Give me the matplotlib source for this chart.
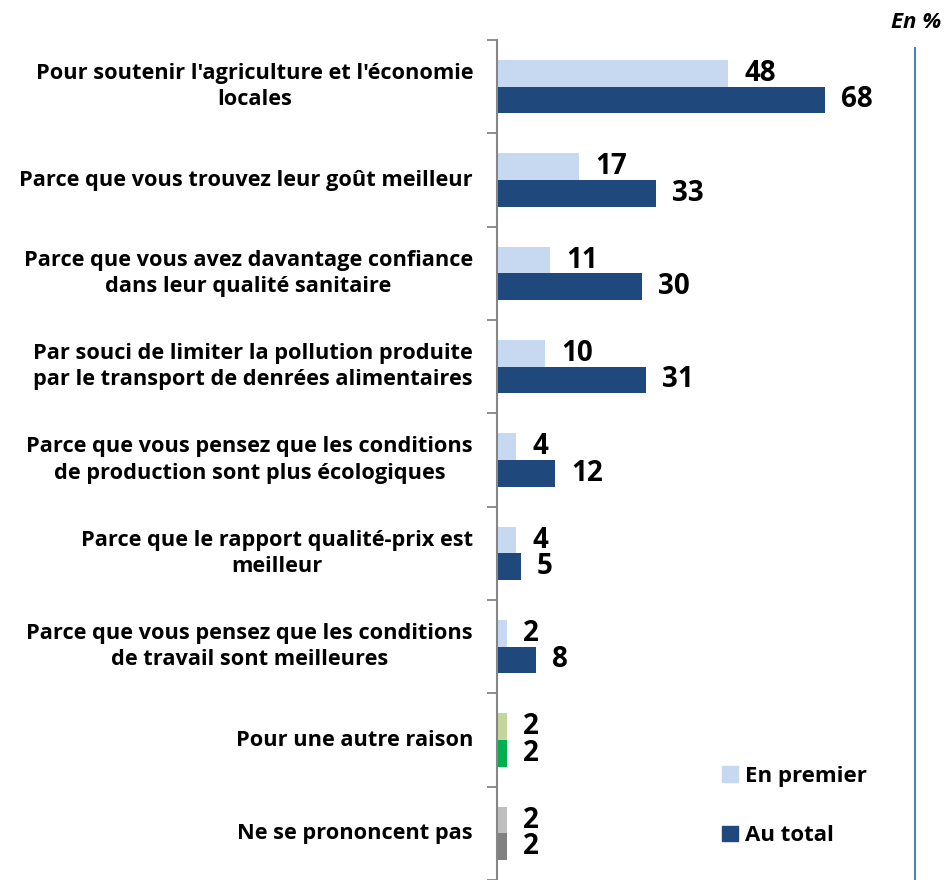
import matplotlib.pyplot as plt
from matplotlib.lines import Line2D
from matplotlib.patches import Rectangle
import numpy as np

plt.rcParams['font.family'] = ['Open Sans', 'DejaVu Sans']
plt.rcParams['font.weight'] = 'bold'

# donnees
categories = [
    "Pour soutenir l'agriculture et l'économie\nlocales",
    "Parce que vous trouvez leur goût meilleur",
    "Parce que vous avez davantage confiance\ndans leur qualité sanitaire",
    "Par souci de limiter la pollution produite\npar le transport de denrées alimentaires",
    "Parce que vous pensez que les conditions\nde production sont plus écologiques",
    "Parce que le rapport qualité-prix est\nmeilleur",
    "Parce que vous pensez que les conditions\nde travail sont meilleures",
    "Pour une autre raison",
    "Ne se prononcent pas",
]
en_premier = [48, 17, 11, 10, 4, 4, 2, 2, 2]
au_total = [68, 33, 30, 31, 12, 5, 8, 2, 2]
series_names = ["En premier", "Au total"]

light_colors = ['#C6D9F1'] * 7 + ['#C3D69B', '#BFBFBF']
dark_colors = ['#1F497D'] * 7 + ['#00B050', '#808080']

fig = plt.figure(figsize=(9.44, 8.8), dpi=100)
W, H = 944, 880
ax = fig.add_axes([497 / W, 0, (915 - 497) / W, (880 - 40) / H])

n = len(categories)
y = np.arange(n)
h = 0.285
ax.barh(y - h / 2, en_premier, height=h, color=light_colors)
ax.barh(y + h / 2, au_total, height=h, color=dark_colors)

ax.set_xlim(0, (915 - 497) / 4.82)
ax.set_ylim(n - 0.5, -0.5)

# etiquettes des valeurs
for i in range(n):
    ax.annotate(str(en_premier[i]), (en_premier[i], y[i] - h / 2), xytext=(16, 0),
                textcoords='offset pixels', va='center', ha='left',
                fontsize=20, fontweight='bold')
    ax.annotate(str(au_total[i]), (au_total[i], y[i] + h / 2), xytext=(16, 0),
                textcoords='offset pixels', va='center', ha='left',
                fontsize=20, fontweight='bold')

# etiquettes des categories
for i, c in enumerate(categories):
    ax.annotate(c, (0, y[i]), xytext=(-24, 0), textcoords='offset pixels',
                ha='right', va='center', multialignment='center',
                fontsize=15.7, fontweight='bold', linespacing=1.33,
                annotation_clip=False)

ax.set_yticks(np.arange(n + 1) - 0.5)
ax.set_yticklabels([])
ax.tick_params(axis='y', length=7, width=1.3, color='#868686', direction='out')
ax.set_xticks([])
for s in ['top', 'right', 'bottom']:
    ax.spines[s].set_visible(False)
ax.spines['left'].set_color('#868686')
ax.spines['left'].set_linewidth(1.5)

# legende
handles = [Rectangle((0, 0), 1, 1, color='#C6D9F1'), Rectangle((0, 0), 1, 1, color='#1F497D')]
leg = fig.legend(handles, series_names, loc='center left', bbox_to_anchor=(702 / W, 1 - 806 / H),
                 frameon=False, fontsize=16, handlelength=0.7, handleheight=0.7,
                 handletextpad=0.35, labelspacing=1.75)

# ligne verticale a droite
fig.add_artist(Line2D([915 / W, 915 / W], [0, 1 - 48 / H], color='#4F81BD', lw=1.5))
fig.text(941 / W, 1 - 22 / H, "En %", ha='right', va='center', fontsize=16,
         fontweight='bold', style='italic')

fig.savefig('out.png', dpi=100)
